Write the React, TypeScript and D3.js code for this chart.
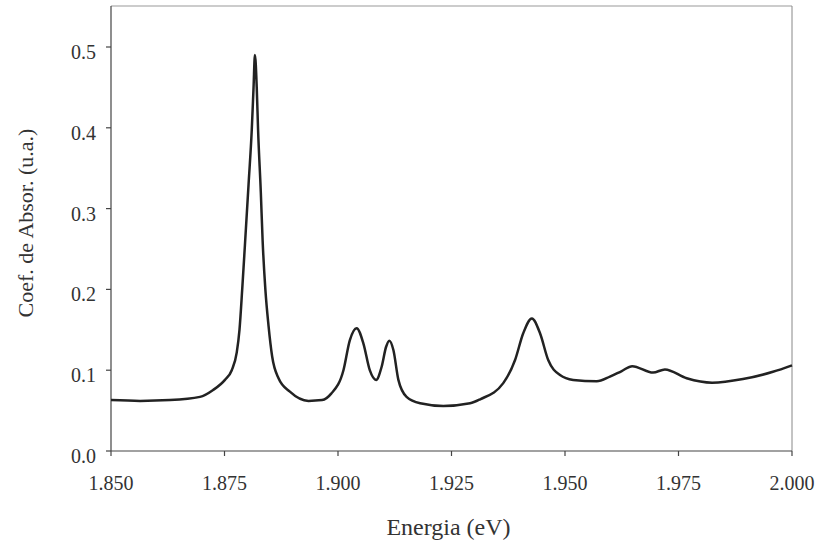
import React from "react";
import * as d3 from "d3";

const energy = [
  1.85, 1.8564, 1.863, 1.8696, 1.8725, 1.8751, 1.8766, 1.8777, 1.8783, 1.8789,
  1.8795, 1.8803, 1.881, 1.8814, 1.8817, 1.8821, 1.8824, 1.883, 1.8834, 1.884,
  1.8847, 1.8855, 1.8869, 1.8894, 1.8935, 1.8965, 1.8985, 1.9012, 1.9026, 1.9041,
  1.9056, 1.907, 1.9084, 1.9096, 1.9106, 1.9113, 1.9122, 1.9133, 1.9151, 1.9181,
  1.9232, 1.9291, 1.9313, 1.9364, 1.939, 1.9408, 1.9427, 1.9445, 1.9463, 1.9489,
  1.9518, 1.957, 1.9599, 1.9625, 1.9648, 1.9694, 1.972, 1.9768, 1.9824, 1.9892,
  1.9958, 2.0,
];
const absorb = [
  0.063, 0.062, 0.063, 0.067, 0.0755, 0.088, 0.1, 0.122, 0.15, 0.2,
  0.255, 0.33, 0.397, 0.45, 0.49, 0.45, 0.397, 0.32, 0.26, 0.2,
  0.155, 0.117, 0.09, 0.0734, 0.062, 0.063, 0.071, 0.1, 0.137, 0.152,
  0.133, 0.1, 0.088, 0.104, 0.129, 0.1365, 0.125, 0.088, 0.067, 0.059,
  0.0557, 0.059, 0.064, 0.084, 0.1126, 0.1457, 0.164, 0.1457, 0.1126, 0.094,
  0.088, 0.0862, 0.092, 0.099, 0.105, 0.097, 0.101, 0.09, 0.0845, 0.089,
  0.098, 0.106,
];
const xTicks = [1.85, 1.875, 1.9, 1.925, 1.95, 1.975, 2.0];
const yTicks = [0, 0.1, 0.2, 0.3, 0.4, 0.5];

const W = 817, H = 544;
const L = 111, R = 792, T = 6, B = 451;
const FONT = "'Liberation Serif', 'DejaVu Serif', serif";

export default function App() {
  const x = d3.scaleLinear().domain([1.85, 2.0]).range([L, R]);
  const y = d3.scaleLinear().domain([0, 0.5]).range([B, 47]);
  const pts: [number, number][] = energy.map((e, i) => [e, absorb[i]]);
  const line = d3
    .line<[number, number]>()
    .x((d) => x(d[0]))
    .y((d) => y(d[1]))
    .curve(d3.curveMonotoneX);
  return (
    <svg width={W} height={H} style={{ position: "absolute", left: 0, top: 0, background: "#fff" }}>
      <rect x={0} y={0} width={W} height={H} fill="#fff" />
      <line x1={L} y1={T} x2={R} y2={T} stroke="#999" strokeWidth={1} />
      <line x1={R} y1={T} x2={R} y2={B} stroke="#888" strokeWidth={1} />
      <line x1={L} y1={T} x2={L} y2={B} stroke="#444" strokeWidth={1.2} />
      <line x1={L} y1={B} x2={R} y2={B} stroke="#444" strokeWidth={1.2} />
      {yTicks.map((t) => (
        <g key={"y" + t}>
          <line x1={L - 5} x2={L} y1={y(t)} y2={y(t)} stroke="#444" strokeWidth={1.2} />
          <text x={96} y={y(t) + 12} textAnchor="end" fontFamily={FONT} fontSize={20} fill="#333">
            {t.toFixed(1)}
          </text>
        </g>
      ))}
      {xTicks.map((t) => (
        <g key={"x" + t}>
          <line x1={x(t)} x2={x(t)} y1={B} y2={B + 5} stroke="#444" strokeWidth={1.2} />
          <text x={x(t)} y={490} textAnchor="middle" fontFamily={FONT} fontSize={20} fill="#333">
            {t.toFixed(3)}
          </text>
        </g>
      ))}
      <path d={line(pts) || ""} fill="none" stroke="#222" strokeWidth={2.5} strokeLinejoin="round" />
      <text x={(L + R) / 2 - 3} y={535} textAnchor="middle" fontFamily={FONT} fontSize={24} fill="#333">
        Energia (eV)
      </text>
      <text
        transform={`translate(33, 223) rotate(-90)`}
        textAnchor="middle"
        fontFamily={FONT}
        fontSize={22}
        fill="#333"
      >
        Coef. de Absor. (u.a.)
      </text>
    </svg>
  );
}
